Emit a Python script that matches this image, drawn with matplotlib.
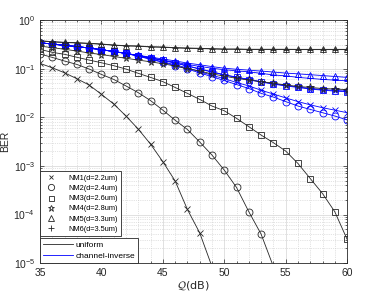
import numpy as np
import matplotlib
matplotlib.use('Agg')
import matplotlib.pyplot as plt
from matplotlib.lines import Line2D
from matplotlib.ticker import MultipleLocator, LogLocator, NullFormatter

plt.rcParams['font.family'] = ['Liberation Sans', 'DejaVu Sans']

q_db = np.arange(35, 61)

names = ['NM1(d=2.2um)', 'NM2(d=2.4um)', 'NM3(d=2.6um)',
         'NM4(d=2.8um)', 'NM5(d=3.3um)', 'NM6(d=3.5um)']
markers = ['x', 'o', 's', '*', '^', '+']
msizes = [3.8, 5, 4, 5.5, 5, 5]

nan = np.nan
# uniform allocation (black)
ber_uni_nm1 = [0.128, 0.104, 0.082, 0.062, 0.046, 0.0296, 0.0187, 0.0106, 0.0057, 0.0028,
               0.00122, 4.9e-4, 1.27e-4, 4.2e-5, 8.5e-6, nan, nan, nan, nan, nan,
               nan, nan, nan, nan, nan, nan]
ber_uni_nm2 = [0.2, 0.17, 0.143, 0.122, 0.098, 0.076, 0.06, 0.044, 0.032, 0.022,
               0.014, 0.0087, 0.0056, 0.0031, 0.00167, 8.2e-4, 3.6e-4, 1.14e-4, 3.95e-5, 8.5e-6,
               nan, nan, nan, nan, nan, nan]
ber_uni_nm3 = [0.249, 0.216, 0.197, 0.171, 0.15, 0.132, 0.115, 0.098, 0.08, 0.066,
               0.054, 0.041, 0.031, 0.0233, 0.017, 0.0136, 0.0095, 0.0064, 0.0043, 0.003,
               0.00202, 0.00112, 5.5e-4, 2.7e-4, 1.14e-4, 3.1e-5]
ber_uni_nm4 = [0.29, 0.27, 0.25, 0.23, 0.21, 0.195, 0.178, 0.163, 0.15, 0.138,
               0.126, 0.113, 0.1, 0.089, 0.078, 0.07, 0.063, 0.058, 0.054, 0.05,
               0.046, 0.043, 0.041, 0.039, 0.038, 0.037]
ber_uni_nm5 = [0.375, 0.358, 0.348, 0.341, 0.332, 0.321, 0.306, 0.296, 0.292, 0.282,
               0.278, 0.27, 0.265, 0.262, 0.257, 0.253, 0.253, 0.25, 0.25, 0.25,
               0.25, 0.249, 0.249, 0.249, 0.249, 0.249]
ber_uni_nm6 = [0.37, 0.354, 0.344, 0.337, 0.328, 0.318, 0.303, 0.293, 0.289, 0.279,
               0.275, 0.267, 0.262, 0.259, 0.254, 0.25, 0.25, 0.247, 0.247, 0.247,
               0.247, 0.246, 0.246, 0.246, 0.246, 0.246]

# channel-inverse allocation (blue)
ber_inv_nm1 = [0.34, 0.32, 0.3, 0.285, 0.265, 0.245, 0.225, 0.205, 0.182, 0.158,
               0.138, 0.12, 0.103, 0.087, 0.073, 0.062, 0.052, 0.044, 0.036, 0.03,
               0.025, 0.021, 0.018, 0.0157, 0.014, 0.0124]
ber_inv_nm2 = [0.34, 0.32, 0.3, 0.285, 0.265, 0.245, 0.225, 0.205, 0.18, 0.155,
               0.135, 0.115, 0.098, 0.082, 0.068, 0.057, 0.047, 0.039, 0.031, 0.026,
               0.021, 0.017, 0.0145, 0.0124, 0.0106, 0.0088]
ber_inv_nm3 = [0.34, 0.32, 0.3, 0.285, 0.265, 0.245, 0.225, 0.205, 0.185, 0.165,
               0.147, 0.13, 0.113, 0.098, 0.085, 0.074, 0.066, 0.059, 0.053, 0.048,
               0.044, 0.041, 0.038, 0.036, 0.0345, 0.0335]
ber_inv_nm4 = [0.34, 0.32, 0.3, 0.285, 0.265, 0.245, 0.225, 0.205, 0.186, 0.167,
               0.148, 0.131, 0.114, 0.099, 0.086, 0.075, 0.067, 0.06, 0.054, 0.049,
               0.045, 0.042, 0.039, 0.037, 0.0355, 0.0345]
ber_inv_nm5 = [0.34, 0.32, 0.3, 0.285, 0.265, 0.245, 0.225, 0.205, 0.188, 0.172,
               0.158, 0.144, 0.13, 0.12, 0.11, 0.102, 0.097, 0.093, 0.089, 0.085,
               0.081, 0.078, 0.075, 0.072, 0.069, 0.066]
ber_inv_nm6 = [0.34, 0.32, 0.3, 0.285, 0.265, 0.245, 0.225, 0.205, 0.185, 0.166,
               0.15, 0.135, 0.122, 0.111, 0.102, 0.095, 0.09, 0.086, 0.08, 0.074,
               0.071, 0.066, 0.063, 0.06, 0.058, 0.056]

ber_uni = [ber_uni_nm1, ber_uni_nm2, ber_uni_nm3, ber_uni_nm4, ber_uni_nm5, ber_uni_nm6]
ber_inv = [ber_inv_nm1, ber_inv_nm2, ber_inv_nm3, ber_inv_nm4, ber_inv_nm5, ber_inv_nm6]

dark = '#262626'

fig = plt.figure(figsize=(3.74, 2.94), dpi=100)
ax = fig.add_axes([0.107, 0.105, 0.821, 0.827])

for i in range(len(names)):
    ax.semilogy(q_db, ber_inv[i], color='b', lw=0.6, marker=markers[i], ms=msizes[i],
                mfc='none', mew=0.6)
for i in range(len(names)):
    ax.semilogy(q_db, ber_uni[i], color=dark, lw=0.6, marker=markers[i], ms=msizes[i],
                mfc='none', mew=0.6)

ax.set_xlim(35, 60)
ax.set_ylim(1e-5, 1)
ax.xaxis.set_major_locator(MultipleLocator(5))
ax.xaxis.set_minor_locator(MultipleLocator(1))
ax.yaxis.set_major_locator(LogLocator(base=10, numticks=10))
ax.yaxis.set_minor_locator(LogLocator(base=10, subs=np.arange(2, 10), numticks=10))
ax.yaxis.set_minor_formatter(NullFormatter())
ax.grid(True, which='major', color='#dcdcdc', lw=0.6, ls='-')
ax.grid(True, which='minor', color='#c8c8c8', lw=0.5, ls=':')
ax.set_axisbelow(True)
ax.tick_params(which='both', direction='in', top=True, right=True, labelsize=7.5,
               colors=dark, width=0.5)
ax.tick_params(which='major', length=3)
ax.tick_params(which='minor', length=1.5)
for sp in ax.spines.values():
    sp.set_linewidth(0.6)
    sp.set_color(dark)

ax.set_xlabel(r'$\mathcal{Q}(\mathrm{dB})$', fontsize=8, labelpad=1, color=dark)
ax.set_ylabel('BER', fontsize=7.5, labelpad=2, color=dark)

h1 = []
for i in range(len(names)):
    h1.append(Line2D([], [], color=dark, ls='none', marker=markers[i], ms=msizes[i] * 0.9,
                     mfc='none', mew=0.6))
leg1 = ax.legend(h1, names, loc='lower left', bbox_to_anchor=(0.0, 0.111), fontsize=5.3,
                 fancybox=False, edgecolor=dark, framealpha=1, borderaxespad=0,
                 handlelength=2.2, handletextpad=1.2, labelspacing=0.42, borderpad=0.45)
leg1.get_frame().set_linewidth(0.6)
ax.add_artist(leg1)

h2 = [Line2D([], [], color=dark, lw=0.6), Line2D([], [], color='b', lw=0.6)]
leg2 = ax.legend(h2, ['uniform', 'channel-inverse'], loc='lower left', bbox_to_anchor=(0.0, 0.0),
                 fontsize=6, fancybox=False, edgecolor=dark, framealpha=1, borderaxespad=0,
                 handlelength=3.6, handletextpad=0.3, labelspacing=0.45, borderpad=0.35)
leg2.get_frame().set_linewidth(0.6)

fig.savefig('out.png', dpi=100)
